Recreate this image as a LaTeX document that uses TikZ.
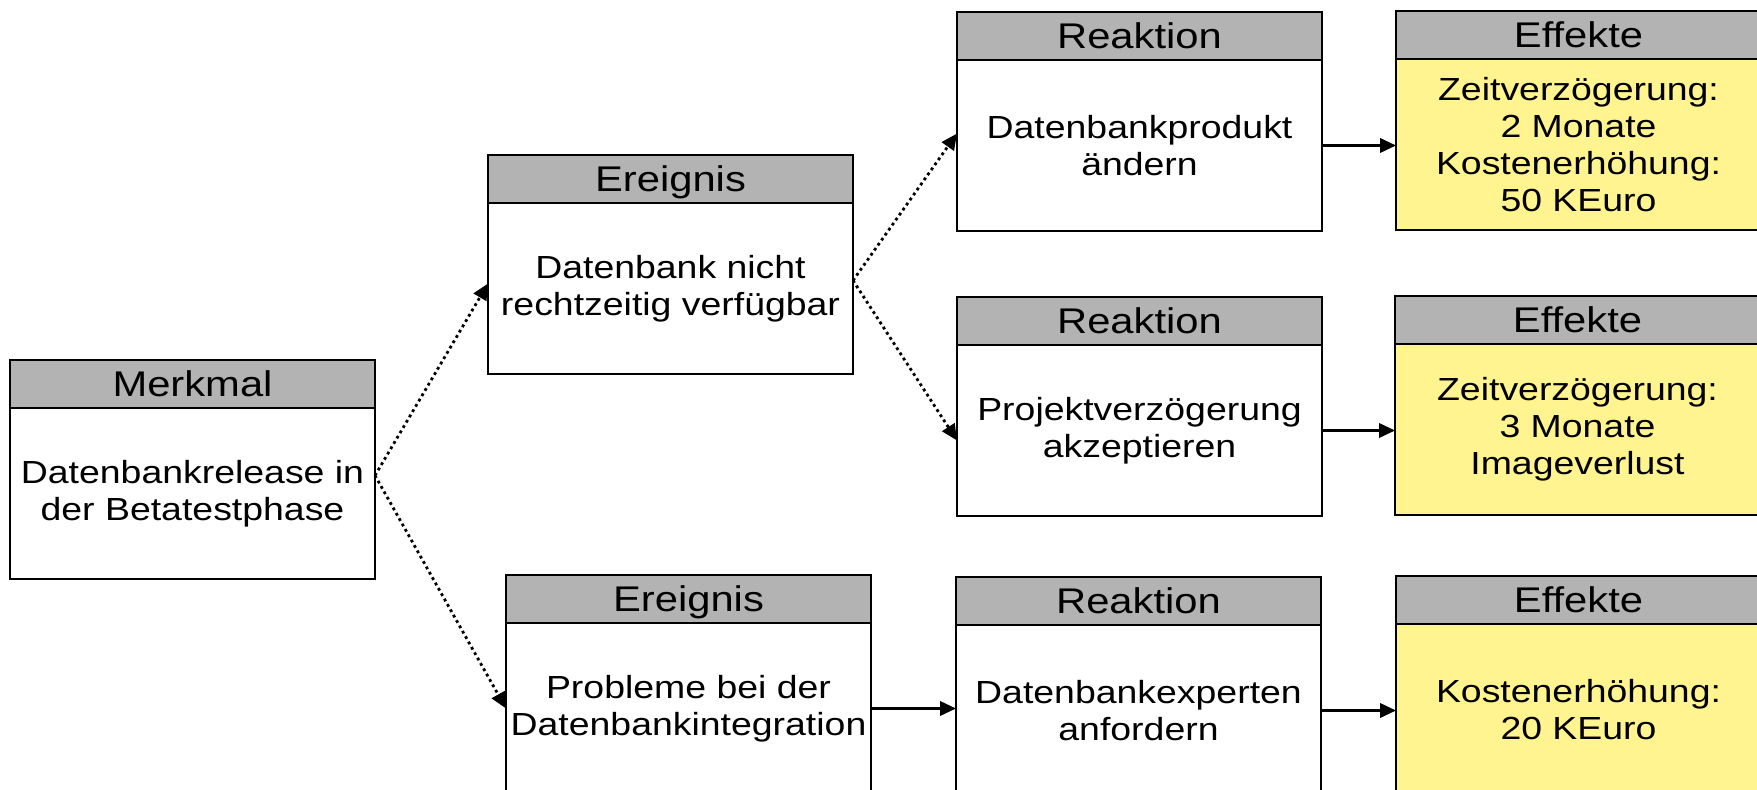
\documentclass[tikz,border=0pt]{standalone}
\usepackage{fontspec}
\setmainfont[FakeStretch=1.17]{Liberation Sans}
\usepackage{xcolor}
\usepackage{tikz}
\usetikzlibrary{arrows.meta, positioning}

\definecolor{kopfgrau}{RGB}{179,179,179}
\definecolor{effektgelb}{RGB}{255,244,143}

\tikzset{
    kopf/.style={draw, line width=1.2pt, fill=kopfgrau, minimum width=7.3cm, minimum height=0.96cm,
        inner sep=0pt, outer sep=0pt, anchor=north west, text height=14.5pt, text depth=0pt,
        font=\fontsize{20.3pt}{23pt}\selectfont},
    rumpf/.style={draw, line width=1.2pt, fill=white, minimum width=7.3cm, minimum height=3.42cm,
        inner sep=0pt, outer sep=0pt, align=center, font=\fontsize{18.2pt}{21pt}\selectfont},
    effekt/.style={rumpf, fill=effektgelb},
    pfeil/.style={-{Triangle[length=0.32cm, width=0.29cm]}, line width=1.2pt},
    punktpfeil/.style={pfeil, line width=1.6pt, dash pattern=on 1.6pt off 1.9pt},
}

\begin{document}
\begin{tikzpicture}
    \useasboundingbox (0,0) rectangle (35.14,-15.8);
    \clip (0,0) rectangle (35.14,-15.8);

    \coordinate (M) at (0.2, -7.2);
    \coordinate (E1) at (9.76, -3.1);
    \coordinate (E2) at (10.12, -11.5);
    \coordinate (R1) at (19.14, -0.24);
    \coordinate (R2) at (19.14, -5.94);
    \coordinate (R3) at (19.12, -11.54);
    \coordinate (F1) at (27.92, -0.22);
    \coordinate (F2) at (27.9, -5.92);
    \coordinate (F3) at (27.92, -11.52);

    % Merkmal
    \node[kopf] (m-k) at (M) {Merkmal};
    \node[rumpf, below=0pt of m-k] (m) {Datenbankrelease in\\der Betatestphase};

    % Ereignisse
    \node[kopf] (e1-k) at (E1) {Ereignis};
    \node[rumpf, below=0pt of e1-k] (e1) {Datenbank nicht\\rechtzeitig verfügbar};
    \node[kopf] (e2-k) at (E2) {Ereignis};
    \node[rumpf, below=0pt of e2-k] (e2) {Probleme bei der\\Datenbankintegration};

    % Reaktionen
    \node[kopf] (r1-k) at (R1) {Reaktion};
    \node[rumpf, below=0pt of r1-k] (r1) {Datenbankprodukt\\ändern};
    \node[kopf] (r2-k) at (R2) {Reaktion};
    \node[rumpf, below=0pt of r2-k] (r2) {Projektverzögerung\\akzeptieren};
    \node[kopf] (r3-k) at (R3) {Reaktion};
    \node[rumpf, below=0pt of r3-k] (r3) {Datenbankexperten\\anfordern};

    % Effekte
    \node[kopf] (f1-k) at (F1) {Effekte};
    \node[effekt, below=0pt of f1-k] (f1) {Zeitverzögerung:\\2 Monate\\Kostenerhöhung:\\50 KEuro};
    \node[kopf] (f2-k) at (F2) {Effekte};
    \node[effekt, below=0pt of f2-k] (f2) {Zeitverzögerung:\\3 Monate\\Imageverlust};
    \node[kopf] (f3-k) at (F3) {Effekte};
    \node[effekt, below=0pt of f3-k] (f3) {Kostenerhöhung:\\20 KEuro};

    \draw[punktpfeil] ([yshift=0.36cm]m.east) -- ([yshift=0.1cm]e1.west);
    \draw[punktpfeil] ([yshift=0.36cm]m.east) -- (e2.west);
    \draw[punktpfeil] ([yshift=0.16cm]e1.east) -- ([yshift=0.24cm]r1.west);
    \draw[punktpfeil] ([yshift=0.16cm]e1.east) -- ([yshift=-0.2cm]r2.west);
    \draw[pfeil] (e2.east) -- (e2.east -| r3.west);
    \draw[pfeil] (r1.east) -- (r1.east -| f1.west);
    \draw[pfeil] (r2.east) -- (r2.east -| f2.west);
    \draw[pfeil] (r3.east) -- (r3.east -| f3.west);
\end{tikzpicture}
\end{document}
